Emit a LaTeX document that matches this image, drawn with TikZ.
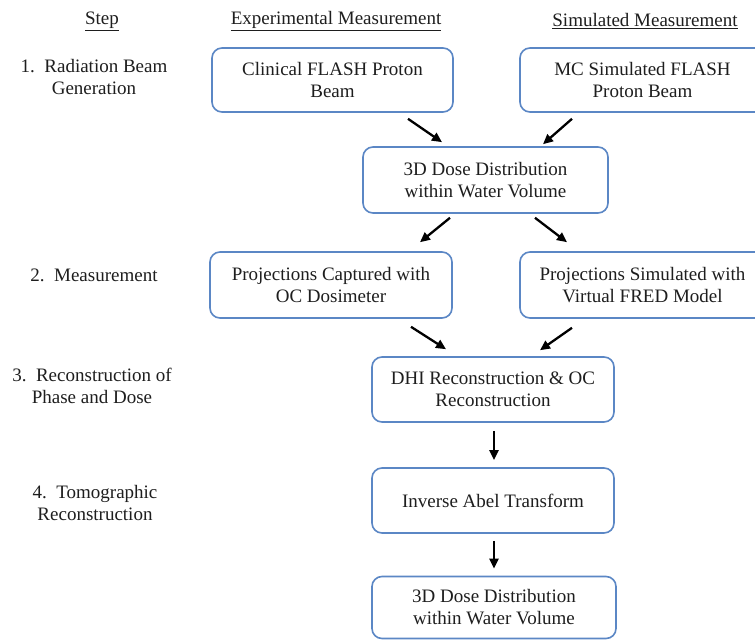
\documentclass[tikz,border=0pt]{standalone}
\usepackage{fontspec}
\setmainfont{Liberation Serif}
\usetikzlibrary{arrows.meta}
\definecolor{boxblue}{HTML}{5B87C5}
\definecolor{txt}{HTML}{1E1E1E}
\begin{document}
\begin{tikzpicture}[x=1pt,y=1pt,
  font=\fontsize{19}{22}\selectfont,
  every node/.append style={text=txt},
  flowbox/.style={draw=boxblue, line width=1.6pt, rounded corners=10pt, fill=white,
    align=center, inner sep=2pt, minimum width=#1, minimum height=64pt},
  flowbox/.default=242pt,
  steplabel/.style={align=center, inner sep=0pt},
  header/.style={inner sep=0pt},
  arr/.style={-{Triangle[length=10pt,width=9pt]}, line width=2.3pt, black}
]
\clip (0,0) rectangle (755,-640);
\fill[white] (0,0) rectangle (755,-640);

% headers
\node[header] (hStep) at (102,-21) {\underline{Step}};
\node[header] (hExp) at (336,-21) {\underline{Experimental Measurement}};
\node[header] (hSim) at (645,-21) {\underline{Simulated Measurement}};

% step labels
\node[steplabel] (s1) at (94,-77) {1.\ \ Radiation Beam\\Generation};
\node[steplabel] (s2) at (94,-275) {2.\ \ Measurement};
\node[steplabel] (s3) at (92,-386) {3.\ \ Reconstruction of\\Phase and Dose};
\node[steplabel] (s4) at (95,-503) {4.\ \ Tomographic\\Reconstruction};

% boxes
\node[flowbox=241pt] (A) at (332.5,-80) {Clinical FLASH Proton\\Beam};
\node[flowbox=245pt] (B) at (642.5,-80) {MC Simulated FLASH\\Proton Beam};
\node[flowbox=245pt, minimum height=66pt] (C) at (485.5,-180) {3D Dose Distribution\\within Water Volume};
\node[flowbox=242pt, minimum height=66pt] (D) at (331,-285) {Projections Captured with\\OC Dosimeter};
\node[flowbox=245pt, minimum height=66pt] (E) at (642.5,-285) {Projections Simulated with\\Virtual FRED Model};
\node[flowbox=242pt, minimum height=65pt] (F) at (493,-389.5) {DHI Reconstruction \& OC\\Reconstruction};
\node[flowbox=242pt, minimum height=65pt] (G) at (493,-500.5) {Inverse Abel Transform};
\node[flowbox=244pt, minimum height=62pt] (H) at (494,-607.5) {3D Dose Distribution\\within Water Volume};

% arrows
\draw[arr] ([xshift=75.5pt,yshift=-6pt]A.south) -- ([xshift=-43.5pt,yshift=4pt]C.north);
\draw[arr] ([xshift=-70.5pt,yshift=-6pt]B.south) -- ([xshift=57.5pt,yshift=2pt]C.north);
\draw[arr] ([xshift=-35.5pt,yshift=-4pt]C.south) -- ([xshift=89pt,yshift=9pt]D.north);
\draw[arr] ([xshift=49.5pt,yshift=-4pt]C.south) -- ([xshift=-75.5pt,yshift=9pt]E.north);
\draw[arr] ([xshift=80pt,yshift=-8pt]D.south) -- ([xshift=-47pt,yshift=7pt]F.north);
\draw[arr] ([xshift=-70.5pt,yshift=-9pt]E.south) -- ([xshift=47pt,yshift=6pt]F.north);
\draw[arr] ([xshift=1pt,yshift=-8pt]F.south) -- ([xshift=1pt,yshift=7pt]G.north);
\draw[arr] ([xshift=1pt,yshift=-7pt]G.south) -- ([xshift=0pt,yshift=7pt]H.north);
\end{tikzpicture}
\end{document}
